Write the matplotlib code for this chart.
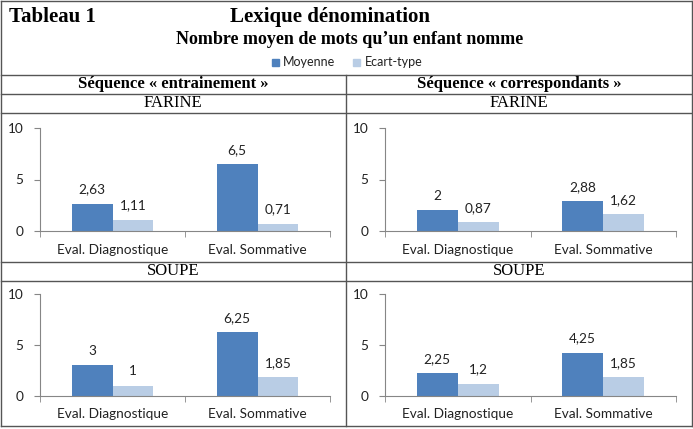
import matplotlib
matplotlib.use("Agg")
import matplotlib.pyplot as plt
import numpy as np

categories = ["Eval. Diagnostique", "Eval. Sommative"]
series = ["Moyenne", "Ecart-type"]
colors = ["#4F81BD", "#B9CDE5"]

entr_farine_moy = [2.63, 6.5]
entr_farine_ect = [1.11, 0.71]
entr_soupe_moy = [3, 6.25]
entr_soupe_ect = [1, 1.85]
corr_farine_moy = [2, 2.88]
corr_farine_ect = [0.87, 1.62]
corr_soupe_moy = [2.25, 4.25]
corr_soupe_ect = [1.2, 1.85]

W, H = 693, 429
fig = plt.figure(figsize=(W / 100, H / 100), dpi=100)


def fx(px):
    return px / W


def fy(py):
    return 1 - py / H


def label(v):
    return ("%g" % v).replace(".", ",")


def chart(x0, x1, y_top, y_zero, moy, ect):
    ax = fig.add_axes([fx(x0), fy(y_zero), fx(x1 - x0), (y_zero - y_top) / H])
    x = np.arange(len(categories))
    w = 0.282
    for vals, c, off in [(moy, colors[0], -w / 2), (ect, colors[1], w / 2)]:
        bars = ax.bar(x + off, vals, w, color=c)
        for b, v in zip(bars, vals):
            ax.annotate(label(v), (b.get_x() + b.get_width() / 2, v),
                        xytext=(0, 6), textcoords="offset points",
                        ha="center", va="bottom", fontsize=9.8,
                        family="Lato", color="#222222")
    ax.set_xlim(-0.5, 1.5)
    ax.set_ylim(0, 10)
    ax.set_yticks([0, 5, 10])
    ax.set_xticks(x)
    ax.set_xticklabels(categories)
    ax.set_xticks([-0.5, 0.5, 1.5], minor=True)
    ax.tick_params(axis="x", which="major", length=0, pad=9)
    ax.tick_params(axis="x", which="minor", length=4, color="#868686")
    ax.tick_params(axis="y", length=4, color="#868686", pad=8)
    for t in ax.get_xticklabels() + ax.get_yticklabels():
        t.set_family("Lato")
        t.set_fontsize(9.8)
        t.set_color("#222222")
    ax.spines["top"].set_visible(False)
    ax.spines["right"].set_visible(False)
    ax.spines["left"].set_color("#868686")
    ax.spines["bottom"].set_color("#868686")
    ax.patch.set_alpha(0)


chart(40, 330, 128, 231, entr_farine_moy, entr_farine_ect)
chart(385, 676, 128, 231, corr_farine_moy, corr_farine_ect)
chart(40, 330, 294, 396, entr_soupe_moy, entr_soupe_ect)
chart(385, 676, 294, 396, corr_soupe_moy, corr_soupe_ect)

# table lines
lc = "#555555"
for py in [1, 75, 94, 113, 262, 281, 426]:
    fig.add_artist(plt.Line2D([fx(1), fx(692)], [fy(py), fy(py)], color=lc, lw=1))
for px, ya, yb in [(1, 1, 426), (692, 1, 426), (346, 75, 426)]:
    fig.add_artist(plt.Line2D([fx(px), fx(px)], [fy(ya), fy(yb)], color=lc, lw=1))

serif = "Liberation Serif"
fig.text(fx(9), fy(17), "Tableau 1", family=serif, weight="bold", fontsize=15,
         va="center", ha="left")
fig.text(fx(230), fy(17), "Lexique dénomination", family=serif, weight="bold",
         fontsize=15, va="center", ha="left")
fig.text(fx(350), fy(40), "Nombre moyen de mots qu\u2019un enfant nomme", family=serif,
         weight="bold", fontsize=13, va="center", ha="center")

# legend
leg_items = [(272, 283, series[0], colors[0]), (353, 365, series[1], colors[1])]
for sx, tx, name, c in leg_items:
    fig.add_artist(plt.Rectangle((fx(sx), fy(66)), fx(7), 7 / H, color=c))
    fig.text(fx(tx), fy(62), name, family="Lato", fontsize=9, va="center",
             ha="left", color="#222222")

for cx, txt in [(173, "Séquence « entrainement »"), (519, "Séquence « correspondants »")]:
    fig.text(fx(cx), fy(84), txt, family=serif, weight="bold", fontsize=12,
             va="center", ha="center")
for cx in [173, 519]:
    fig.text(fx(cx), fy(103), "FARINE", family=serif, fontsize=12,
             va="center", ha="center")
    fig.text(fx(cx), fy(271), "SOUPE", family=serif, fontsize=12,
             va="center", ha="center")

fig.savefig("out.png", dpi=100)
